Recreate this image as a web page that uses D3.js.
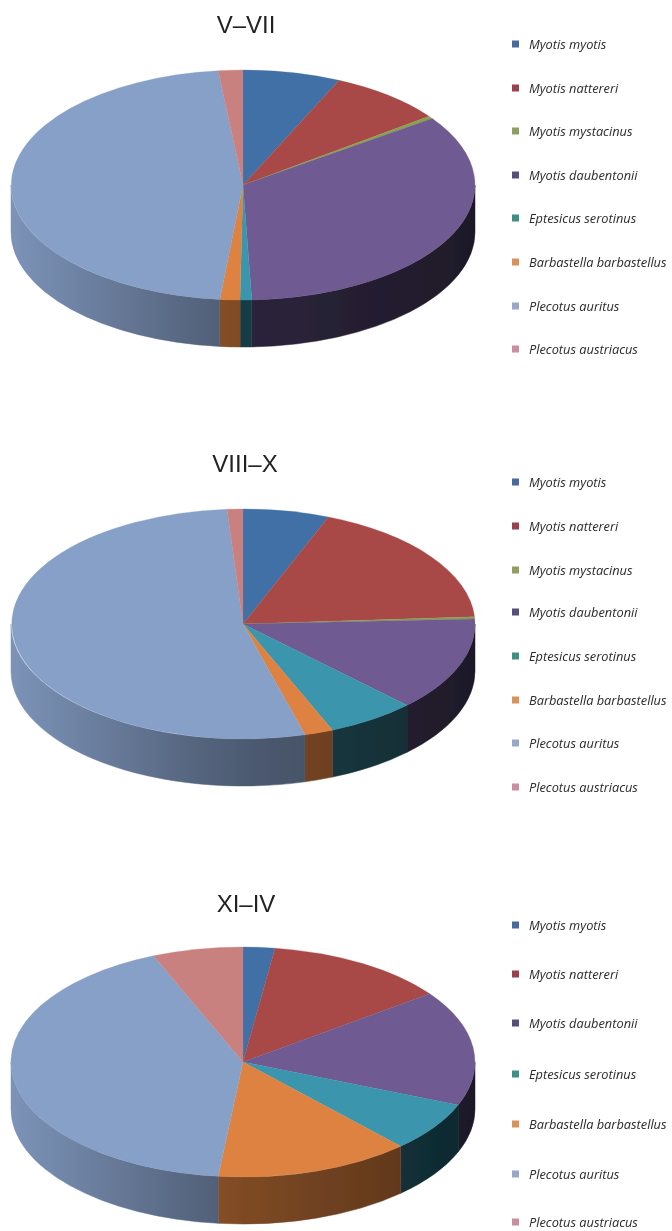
<!DOCTYPE html>
<html>
<head>
<meta charset="utf-8">
<style>
	body { margin: 0; background: white; }
	svg { display: block; }
</style>
<script src="https://cdnjs.cloudflare.com/ajax/libs/d3/7.8.5/d3.min.js"></script>
</head>
<body>
<div id="chart"></div>
<script>
// percentages, clockwise from 12 o'clock
let species = ["Myotis myotis", "Myotis nattereri", "Myotis mystacinus", "Myotis daubentonii", "Eptesicus serotinus", "Barbastella barbastellus", "Plecotus auritus", "Plecotus austriacus"];
let titles = ["V–VII", "VIII–X", "XI–IV"];
let valuesSpring = [6.8, 8, 0.4, 34.2, 0.8, 1.4, 46.7, 1.7];
let valuesAutumn = [6, 18, 0.3, 13.2, 6.2, 2, 53.2, 1.1];
let valuesWinter = [2.2, 12.7, 0, 16.2, 7, 13.6, 42, 6.3];
let colors = ["#3f6fa6", "#a84a46", "#8aa04e", "#6f5a92", "#3a96ad", "#dd8240", "#87a0c8", "#c98180"];
let legendColors = ["#4a6a9e", "#9b3f50", "#8f9f62", "#575078", "#3f8f86", "#d8935a", "#9aa8c8", "#c98f9f"];
let sideDarkness = [1, 1, 1, 0.72, 0.72, 1, 1, 1];

let width = 672;
let height = 1231;
let cx = 243;
let rx = 232;
let ry = 115;
let depth = 47;

let panels = [
	{values: valuesSpring, cy: 185, titleY: 33, titleX: 246, legendY: [44, 88, 131, 175, 218, 262, 306, 349]},
	{values: valuesAutumn, cy: 624, titleY: 472, titleX: 245, legendY: [482, 526, 570, 612, 656, 700, 743, 787]},
	{values: valuesWinter, cy: 1062, titleY: 912, titleX: 246, legendY: [925, 974, 1023, 1074, 1124, 1174, 1222]}
];

let svg = d3.select("#chart").append("svg")
	.attr("width", width)
	.attr("height", height);

let defs = svg.append("defs");

defs.append("filter")
	.attr("id", "soft")
	.append("feGaussianBlur")
	.attr("stdDeviation", 0.5);

defs.append("filter")
	.attr("id", "softer")
	.append("feGaussianBlur")
	.attr("stdDeviation", 0.65);

// side walls get darker from left to right across the whole pie
let shade = d3.scaleLinear()
	.domain([0, 0.47, 1])
	.range([0.92, 0.58, 0.38]);

colors.forEach((c, i) => {
	let grad = defs.append("linearGradient")
		.attr("id", "side" + i)
		.attr("gradientUnits", "userSpaceOnUse")
		.attr("x1", cx - rx)
		.attr("x2", cx + rx)
		.attr("y1", 0)
		.attr("y2", 0);
	d3.range(0, 1.01, 0.1).forEach(t => {
		let col = d3.rgb(c);
		let k = shade(t) * sideDarkness[i];
		grad.append("stop")
			.attr("offset", t)
			.attr("stop-color", d3.rgb(col.r * k, col.g * k, col.b * k).formatHex());
	});
});

let pie = d3.pie().sort(null).value(d => d);
let arc = d3.arc().innerRadius(0).outerRadius(1);

// unit circle to picture coordinates
let xScale = d3.scaleLinear().domain([-1, 1]).range([cx - rx, cx + rx]);

panels.forEach(drawPanel);

function drawPanel(panel){
	let yScale = d3.scaleLinear().domain([-1, 1]).range([panel.cy - ry, panel.cy + ry]);
	let slices = pie(panel.values).map((s, i) => ({...s, index: i})).filter(s => s.value > 0);
	let g = svg.append("g").attr("filter", "url(#soft)");

	g.selectAll(".side")
		.data(slices.filter(s => s.startAngle < 1.5 * Math.PI && s.endAngle > 0.5 * Math.PI))
		.enter()
		.append("path")
		.attr("class", "side")
		.attr("fill", d => `url(#side${d.index})`)
		.attr("stroke", d => `url(#side${d.index})`)
		.attr("stroke-width", 0.5)
		.attr("d", d => {
			let a0 = Math.max(d.startAngle, 0.5 * Math.PI);
			let a1 = Math.min(d.endAngle, 1.5 * Math.PI);
			let x0 = xScale(Math.sin(a0)), y0 = yScale(-Math.cos(a0));
			let x1 = xScale(Math.sin(a1)), y1 = yScale(-Math.cos(a1));
			return `M${x0},${y0}A${rx},${ry} 0 0 1 ${x1},${y1}L${x1},${y1 + depth}A${rx},${ry} 0 0 0 ${x0},${y0 + depth}Z`;
		});

	g.selectAll(".slice")
		.data(slices)
		.enter()
		.append("path")
		.attr("class", "slice")
		.attr("transform", `translate(${cx},${panel.cy}) scale(${rx},${ry})`)
		.attr("d", arc)
		.attr("fill", d => colors[d.index])
		.attr("stroke", d => colors[d.index])
		.attr("stroke-width", 0.3)
		.attr("vector-effect", "non-scaling-stroke");

	svg.append("text")
		.attr("x", panel.titleX)
		.attr("y", panel.titleY)
		.attr("text-anchor", "middle")
		.attr("font-family", "Liberation Sans")
		.attr("font-size", 24)
		.attr("fill", "#222")
		.attr("filter", "url(#soft)")
		.text(titles[panels.indexOf(panel)]);

	let legendRows = species.map((s, i) => ({name: s, index: i})).filter(d => panel.values[d.index] > 0);
	let legend = svg.append("g").attr("filter", "url(#softer)");

	let rows = legend.selectAll("g")
		.data(legendRows)
		.enter()
		.append("g")
		.attr("transform", (d, i) => `translate(512,${panel.legendY[i]})`);

	rows.append("rect")
		.attr("x", 0)
		.attr("y", -3.5)
		.attr("width", 7)
		.attr("height", 7)
		.attr("fill", d => legendColors[d.index]);

	rows.append("text")
		.attr("x", 17)
		.attr("y", 4.5)
		.attr("font-family", "Open Sans")
		.attr("font-style", "italic")
		.attr("font-size", 12.8)
		.attr("fill", "#2a2a2a")
		.text(d => d.name);
}
</script>
</body>
</html>
